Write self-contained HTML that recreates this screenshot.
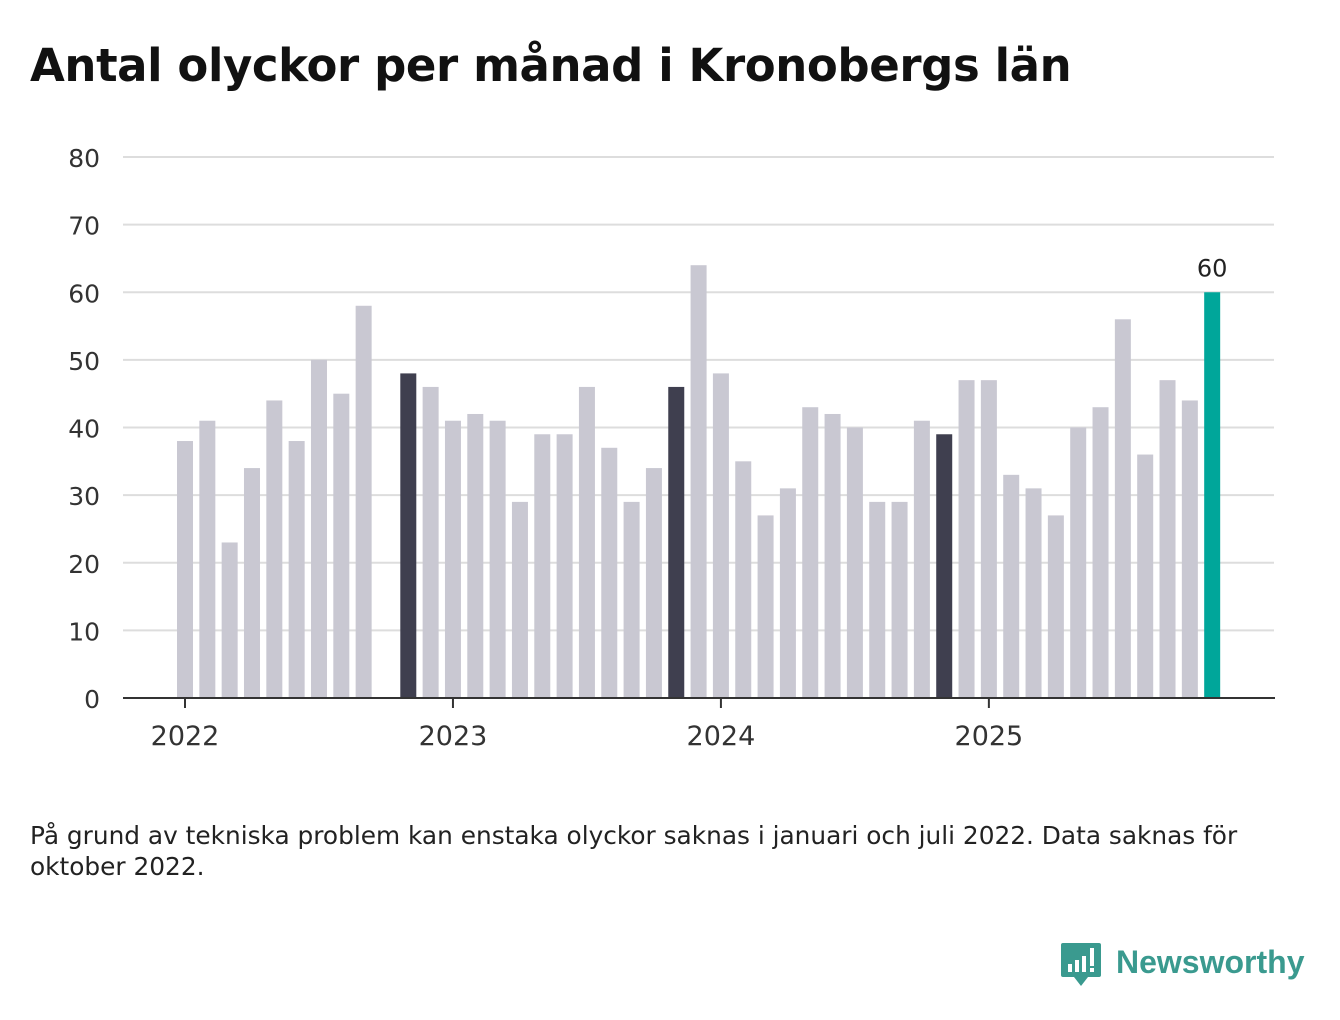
<!DOCTYPE html>
<html><head><meta charset="utf-8"><style>
body{margin:0;width:1340px;height:1020px;background:#fff;font-family:"DejaVu Sans","Liberation Sans",sans-serif;overflow:hidden}
h1{position:absolute;left:30px;top:39px;margin:0;font-size:45px;font-weight:bold;color:#111;font-family:"DejaVu Sans","Liberation Sans",sans-serif;letter-spacing:-0.4px}
#note{position:absolute;left:30px;top:820px;font-size:24.8px;color:#222;line-height:31px;width:1280px}
#logo{position:absolute;left:1060px;top:940px}
</style></head><body>
<h1>Antal olyckor per månad i Kronobergs län</h1>
<svg id="chart" width="1340" height="800" style="position:absolute;left:0;top:0"></svg>
<div id="note">På grund av tekniska problem kan enstaka olyckor saknas i januari och juli 2022. Data saknas för oktober 2022.</div>
<svg id="logo" width="270" height="55">
<path d="M3 3h36a2 2 0 0 1 2 2v30a2 2 0 0 1-2 2H28l-7 9-7-9H3a2 2 0 0 1-2-2V5a2 2 0 0 1 2-2z" fill="#3a9a8f"/>
<rect x="8" y="24" width="4" height="8" fill="#fff"/><rect x="15" y="20" width="4" height="12" fill="#fff"/><rect x="22" y="16" width="4" height="16" fill="#fff"/><rect x="30" y="8" width="4" height="18" fill="#fff"/><rect x="30" y="28" width="4" height="4" fill="#fff"/>
<text x="56" y="33" font-size="32" font-weight="bold" fill="#3a9a8f" font-family="Liberation Sans, sans-serif">Newsworthy</text>
</svg>
<script>
const values=[38,41,23,34,44,38,50,45,58,null,48,46,41,42,41,29,39,39,46,37,29,34,46,64,48,35,27,31,43,42,40,29,29,41,39,47,47,33,31,27,40,43,56,36,47,44,60];
const yTicks=[0,10,20,30,40,50,60,70,80];
const years=["2022","2023","2024","2025"];
const ns="http://www.w3.org/2000/svg";
const svg=document.getElementById('chart');
const x=i=>185+i*22.33, y=v=>698-v*6.7625;
function mk(t,a){const e=document.createElementNS(ns,t);for(const k in a)e.setAttribute(k,a[k]);svg.appendChild(e);return e;}
yTicks.forEach(t=>{
 if(t>0){const g=mk('line',{x1:123,x2:1274,y1:y(t),y2:y(t),stroke:'#ddd','stroke-width':2});
 
 }
 const l=mk('text',{x:100,y:y(t)+10,'text-anchor':'end','font-size':25,fill:'#333'});l.textContent=t;
 
 
});
const n=values.length;
values.forEach((v,i)=>{
 if(v==null)return;
 const m=i%12===10;const last=i===n-1;
 const r=mk('rect',{x:x(i)-8,y:y(v),width:16,height:y(0)-y(v),fill:last?'#00a69a':(m?'#3f3f4f':'#c9c8d2')});
 
 
 if(last){const t=mk('text',{x:x(i),y:y(v)-16,'text-anchor':'middle','font-size':24,fill:'#222'});t.textContent=v;
 
 }
});
const ax=mk('line',{x1:123,x2:1275,y1:698,y2:698,stroke:'#333','stroke-width':2});


years.forEach((yr,k)=>{
 const xi=x(k*12);
 const tk=mk('line',{x1:xi,x2:xi,y1:698,y2:708,stroke:'#333','stroke-width':2});
 
 
 const t=mk('text',{x:xi,y:745,'text-anchor':'middle','font-size':27,fill:'#333'});t.textContent=yr;
 
 
});
</script>
</body></html>
